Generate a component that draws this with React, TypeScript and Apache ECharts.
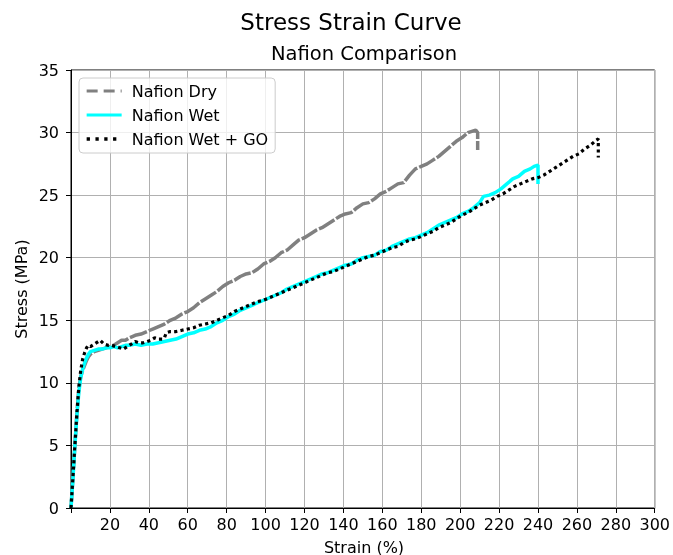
import React, { useEffect, useRef } from "react";
import * as echarts from "echarts";

const strainDry = [0,1,2,3,4,5,6,7,8,9,10,12,14,16,18,20,22,24,26,28,30,33,36,39,42,45,48,51,54,57,60,63,66,69,72,75,78,81,84,87,90,93,96,99,102,105,108,111,114,117,120,123,126,129,132,135,138,141,144,147,150,153,156,159,162,165,168,171,174,177,180,183,186,189,192,195,198,201,204,206,208,209,209];
const stressDry = [0,2.5,5.0,7.5,9.5,10.5,11.0,11.4,11.8,12.1,12.3,12.5,12.6,12.7,12.8,12.9,13.0,13.2,13.4,13.4,13.6,13.8,13.9,14.1,14.3,14.5,14.7,15.0,15.2,15.5,15.7,16.0,16.4,16.7,17.0,17.3,17.7,18.0,18.2,18.5,18.7,18.8,19.1,19.5,19.7,20.0,20.4,20.6,21.0,21.4,21.6,21.9,22.2,22.4,22.7,23.0,23.3,23.5,23.6,24.0,24.3,24.4,24.7,25.1,25.3,25.6,25.9,26.0,26.6,27.1,27.3,27.5,27.8,28.1,28.5,28.9,29.3,29.6,30.0,30.1,30.2,30.0,28.6];

const strainWet = [0,1,2,3,4,5,6,7,8,9,10,12,14,16,18,20,22,24,26,28,30,33,36,39,42,45,48,51,54,57,60,63,66,69,72,75,78,81,84,87,90,93,96,99,102,105,108,111,114,117,120,123,126,129,132,135,138,141,144,147,150,153,156,159,162,165,168,171,174,177,180,183,186,189,192,195,198,201,204,207,210,212,215,218,221,224,227,230,233,236,238,240,240];
const stressWet = [0,2.3,5.0,7.3,9.2,10.4,11.1,11.6,12.0,12.3,12.5,12.6,12.7,12.7,12.8,12.8,12.9,12.8,12.9,13.0,13.0,13.1,13.0,13.1,13.1,13.2,13.3,13.4,13.5,13.7,13.9,14.0,14.2,14.3,14.5,14.8,15.0,15.3,15.5,15.8,16.0,16.2,16.4,16.6,16.8,17.0,17.2,17.5,17.7,17.9,18.1,18.3,18.5,18.7,18.8,19.0,19.2,19.4,19.5,19.8,20.0,20.1,20.2,20.5,20.6,20.9,21.1,21.3,21.5,21.6,21.8,22.0,22.3,22.6,22.8,23.0,23.2,23.5,23.7,24.0,24.4,24.9,25.0,25.2,25.5,25.9,26.3,26.5,26.9,27.1,27.3,27.4,25.9];

const strainGO = [0,1,2,3,4,5,6,7,8,9,10,12,14,15,17,19,21,23,25,27,29,31,33,35,37,39,41,43,45,47,48,49,51,54,57,60,63,66,69,72,75,78,81,84,87,90,93,96,99,102,105,108,111,114,117,120,123,126,129,132,135,138,141,144,147,150,153,156,159,162,165,168,171,174,177,180,183,186,189,192,195,198,201,204,207,210,213,216,219,222,225,228,231,234,237,240,243,246,249,252,255,258,261,264,267,270,271,271];
const stressGO = [0,2.5,5.0,7.5,9.6,11.0,11.9,12.4,12.8,13.0,12.9,13.1,13.3,13.4,13.1,13.0,13.0,12.9,12.8,12.7,12.9,13.1,13.3,13.2,13.2,13.3,13.4,13.6,13.5,13.5,13.6,14.0,14.1,14.1,14.2,14.3,14.4,14.6,14.7,14.8,15.0,15.2,15.4,15.7,15.9,16.1,16.3,16.5,16.6,16.8,17.0,17.2,17.4,17.6,17.8,18.0,18.2,18.4,18.6,18.8,18.9,19.1,19.3,19.5,19.7,19.9,20.1,20.2,20.4,20.6,20.8,20.9,21.2,21.4,21.5,21.7,21.9,22.1,22.4,22.6,22.8,23.1,23.4,23.6,23.9,24.2,24.4,24.6,24.9,25.1,25.4,25.7,25.9,26.1,26.3,26.4,26.6,26.9,27.2,27.5,27.8,28.1,28.3,28.7,29.0,29.4,29.5,28.0];

const seriesNames = ["Nafion Dry", "Nafion Wet", "Nafion Wet + GO"];
const xTicks = { min: 0, max: 300, interval: 20 };
const yTicks = { min: 0, max: 35, interval: 5 };

const zip = (xs: number[], ys: number[]) => xs.map((x, i) => [x, ys[i]]);

const FONT = "DejaVu Sans";

export default function App() {
  const ref = useRef<HTMLDivElement>(null);
  useEffect(() => {
    if (!ref.current) return;
    const chart = echarts.init(ref.current, undefined, { renderer: "svg" });
    chart.setOption({
      animation: false,
      textStyle: { fontFamily: FONT },
      grid: {
        left: 71, right: 16, top: 70, bottom: 47,
        show: true, borderColor: "#000", borderWidth: 1, backgroundColor: "transparent",
      },
      legend: {
        show: true,
        orient: "vertical",
        left: 79, top: 78,
        padding: [5, 7, 6, 6],
        itemGap: 8,
        itemWidth: 35, itemHeight: 18,
        borderColor: "#cccccc", borderWidth: 1, borderRadius: 4,
        backgroundColor: "rgba(255,255,255,0.8)",
        textStyle: { fontFamily: FONT, fontSize: 16, color: "#000" },
        formatter: (n: string) => " " + n,
        data: [
          { name: seriesNames[0], itemStyle: { opacity: 0 }, lineStyle: { color: "#808080", width: 3, type: [11, 6] } },
          { name: seriesNames[1], itemStyle: { opacity: 0 }, lineStyle: { color: "#00ffff", width: 3, type: "solid" } },
          { name: seriesNames[2], itemStyle: { opacity: 0 }, lineStyle: { color: "#000", width: 3.3, type: [3.3, 5.5] } },
        ],
      },
      xAxis: {
        type: "value", ...xTicks,
        axisLine: { show: true, lineStyle: { color: "#000", width: 1 } },
        axisTick: { show: true, length: 5, lineStyle: { color: "#000" } },
        axisLabel: {
          fontFamily: FONT, fontSize: 16, color: "#000", margin: 8,
          formatter: (v: number) => (v === 0 ? "" : String(v)),
        },
        splitLine: { show: true, lineStyle: { color: "#b0b0b0", width: 1 } },
      },
      yAxis: {
        type: "value", ...yTicks,
        axisLine: { show: true, lineStyle: { color: "#000", width: 1 } },
        axisTick: { show: true, length: 5, lineStyle: { color: "#000" } },
        axisLabel: { fontFamily: FONT, fontSize: 16, color: "#000", margin: 12 },
        splitLine: { show: true, lineStyle: { color: "#b0b0b0", width: 1 } },
      },
      graphic: [
        { type: "text", x: 351, y: 22, style: { text: "Stress Strain Curve", font: `23px "${FONT}"`, fill: "#000", textAlign: "center", textVerticalAlign: "middle" } },
        { type: "text", x: 364, y: 53, style: { text: "Nafion Comparison", font: `19.5px "${FONT}"`, fill: "#000", textAlign: "center", textVerticalAlign: "middle" } },
        { type: "text", x: 364, y: 547, style: { text: "Strain (%)", font: `16px "${FONT}"`, fill: "#000", textAlign: "center", textVerticalAlign: "middle" } },
        { type: "text", x: 21, y: 289, rotation: Math.PI / 2, style: { text: "Stress (MPa)", font: `16px "${FONT}"`, fill: "#000", textAlign: "center", textVerticalAlign: "middle" } },
      ],
      series: [
        {
          name: seriesNames[0], type: "line", showSymbol: false, symbol: "none",
          data: zip(strainDry, stressDry),
          lineStyle: { color: "#808080", width: 3.5, type: [18, 2], cap: "butt" },
          itemStyle: { color: "#808080" }, z: 2,
        },
        {
          name: seriesNames[1], type: "line", showSymbol: false, symbol: "none",
          data: zip(strainWet, stressWet),
          lineStyle: { color: "#00ffff", width: 3.5, type: "solid" },
          itemStyle: { color: "#00ffff" }, z: 3,
        },
        {
          name: seriesNames[2], type: "line", showSymbol: false, symbol: "none",
          data: zip(strainGO, stressGO),
          lineStyle: { color: "#000", width: 3.2, type: [3.2, 3.2], cap: "butt" },
          itemStyle: { color: "#000" }, z: 4,
        },
      ],
    });
    return () => chart.dispose();
  }, []);
  return <div ref={ref} style={{ position: "fixed", left: 0, top: 0, width: 673, height: 555 }} />;
}
